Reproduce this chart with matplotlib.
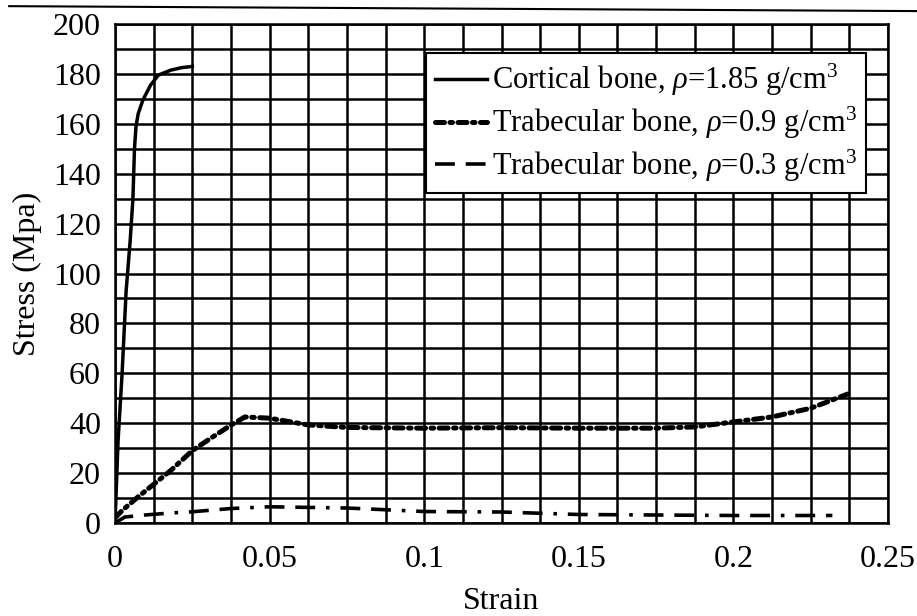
import numpy as np
import matplotlib
matplotlib.use('Agg')
import matplotlib.pyplot as plt
from matplotlib.ticker import FormatStrFormatter
from matplotlib.lines import Line2D

plt.rcParams['font.family'] = ['Liberation Serif', 'DejaVu Serif']
plt.rcParams['mathtext.fontset'] = 'custom'
plt.rcParams['mathtext.rm'] = 'Liberation Serif'
plt.rcParams['mathtext.it'] = 'Liberation Serif:italic'

# cortical bone, rho = 1.85
cort_strain = [0, 0.001, 0.0023, 0.0036, 0.0049, 0.0058, 0.0063, 0.0068, 0.0075,
               0.009, 0.0115, 0.014, 0.018, 0.0215, 0.025]
cort_stress = [0, 33, 60, 93, 113, 130, 150, 159, 164,
               169.5, 175.5, 179.5, 181.5, 182.5, 183]

# trabecular bone, rho = 0.9
trab9_strain = [0, 0.0023, 0.0074, 0.013, 0.018, 0.025, 0.031, 0.0372, 0.042,
                0.05, 0.0625, 0.075, 0.1, 0.125, 0.15, 0.175, 0.1875,
                0.2, 0.2125, 0.225, 0.237]
trab9_stress = [2, 5, 10.4, 16, 21, 29, 34, 39, 42.5,
                42, 39.3, 38.3, 38, 38.2, 38, 38, 38.5,
                40.5, 42.5, 46, 51.7]

# trabecular bone, rho = 0.3
trab3_strain = [0, 0.0032, 0.0097, 0.018, 0.025, 0.0375, 0.05, 0.075, 0.1,
                0.125, 0.15, 0.175, 0.2, 0.232]
trab3_stress = [0, 2.4, 3.2, 4, 4.5, 5.8, 6.5, 6, 4.6,
                4.4, 3.4, 3.2, 3, 3]

labels = [r'Cortical bone, $\rho$=1.85 g/cm$^3$',
          r'Trabecular bone, $\rho$=0.9 g/cm$^3$',
          r'Trabecular bone, $\rho$=0.3 g/cm$^3$']

fig = plt.figure(figsize=(9.17, 6.16), dpi=100)
ax = fig.add_axes([0.1254, 0.151, 0.843, 0.810])

ax.plot(cort_strain, cort_stress, color='black', lw=2.5, label=labels[0])
ax.plot(trab9_strain, trab9_stress, color='black', lw=3.6,
        linestyle=(0, (1.8, 1.1, 0.5, 1.1)), dash_capstyle='round', label=labels[1])
ax.plot(trab3_strain, trab3_stress, color='black', lw=2.6,
        linestyle=(0, (5.5, 3, 5.5, 3, 1, 3)), label=labels[2])

ax.set_xlim(0, 0.25)
ax.set_ylim(0, 200)
ax.set_xticks([0, 0.05, 0.1, 0.15, 0.2, 0.25])
ax.set_yticks(range(0, 201, 20))
ax.set_xticks(np.arange(0, 0.2501, 0.0125), minor=True)
ax.set_yticks(range(0, 201, 10), minor=True)
ax.xaxis.set_major_formatter(FormatStrFormatter('%g'))
ax.grid(True, which='both', color='black', lw=1.8)
ax.set_axisbelow(True)
ax.tick_params(which='both', length=0)
ax.tick_params(axis='x', labelsize=23, pad=16)
ax.tick_params(axis='y', labelsize=23, pad=10)
for s in ax.spines.values():
    s.set_linewidth(1.8)

ax.set_xlabel('Strain', fontsize=23, labelpad=9)
ax.set_ylabel('Stress (Mpa)', fontsize=23, labelpad=8)

leg = ax.legend(loc='upper right', bbox_to_anchor=(0.9715, 0.942), fontsize=22,
                frameon=True, fancybox=False, framealpha=1, edgecolor='black',
                handlelength=1.7, handletextpad=0.15, borderpad=0.3,
                labelspacing=0.22, borderaxespad=0)
leg.get_frame().set_linewidth(1.5)

# scan line at the very top of the page
fig.add_artist(Line2D([0.01, 1.0], [0.99, 0.982], color='black', lw=1.5))

fig.savefig('out.png', dpi=100)
